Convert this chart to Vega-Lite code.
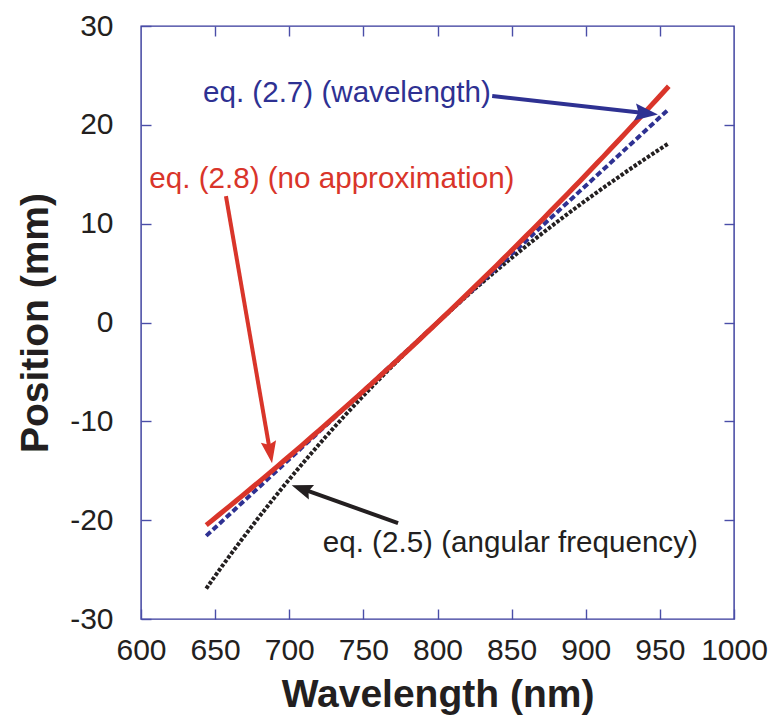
{
  "$schema": "https://vega.github.io/schema/vega-lite/v6.json",
  "width": 593,
  "height": 593,
  "autosize": {"type": "none"},
  "padding": {"left": 141, "top": 26, "right": 37, "bottom": 100},
  "background": "white",
  "config": {
    "font": "Liberation Sans",
    "view": {"stroke": "#34379a", "strokeWidth": 1.4},
    "axis": {"grid": false, "domain": false}
  },
  "datasets": {
    "curves": [
      {"w": 644, "r": -20.50, "b": -21.59, "k": -26.92},
      {"w": 648, "r": -20.02, "b": -21.04, "k": -26.07},
      {"w": 652, "r": -19.53, "b": -20.48, "k": -25.22},
      {"w": 656, "r": -19.04, "b": -19.93, "k": -24.39},
      {"w": 660, "r": -18.55, "b": -19.38, "k": -23.57},
      {"w": 664, "r": -18.06, "b": -18.82, "k": -22.76},
      {"w": 668, "r": -17.57, "b": -18.27, "k": -21.96},
      {"w": 672, "r": -17.07, "b": -17.72, "k": -21.17},
      {"w": 676, "r": -16.57, "b": -17.16, "k": -20.38},
      {"w": 680, "r": -16.07, "b": -16.61, "k": -19.61},
      {"w": 684, "r": -15.57, "b": -16.05, "k": -18.85},
      {"w": 688, "r": -15.06, "b": -15.50, "k": -18.09},
      {"w": 692, "r": -14.55, "b": -14.95, "k": -17.34},
      {"w": 696, "r": -14.04, "b": -14.39, "k": -16.60},
      {"w": 700, "r": -13.53, "b": -13.84, "k": -15.88},
      {"w": 704, "r": -13.02, "b": -13.29, "k": -15.15},
      {"w": 708, "r": -12.50, "b": -12.73, "k": -14.44},
      {"w": 712, "r": -11.98, "b": -12.18, "k": -13.73},
      {"w": 716, "r": -11.46, "b": -11.63, "k": -13.04},
      {"w": 720, "r": -10.94, "b": -11.07, "k": -12.35},
      {"w": 724, "r": -10.41, "b": -10.52, "k": -11.66},
      {"w": 728, "r": -9.88, "b": -9.96, "k": -10.99},
      {"w": 732, "r": -9.35, "b": -9.41, "k": -10.32},
      {"w": 736, "r": -8.82, "b": -8.86, "k": -9.66},
      {"w": 740, "r": -8.29, "b": -8.30, "k": -9.01},
      {"w": 744, "r": -7.75, "b": -7.75, "k": -8.36},
      {"w": 748, "r": -7.21, "b": -7.20, "k": -7.73},
      {"w": 752, "r": -6.67, "b": -6.64, "k": -7.09},
      {"w": 756, "r": -6.13, "b": -6.09, "k": -6.47},
      {"w": 760, "r": -5.58, "b": -5.54, "k": -5.85},
      {"w": 764, "r": -5.03, "b": -4.98, "k": -5.24},
      {"w": 768, "r": -4.48, "b": -4.43, "k": -4.63},
      {"w": 772, "r": -3.93, "b": -3.88, "k": -4.03},
      {"w": 776, "r": -3.38, "b": -3.32, "k": -3.44},
      {"w": 780, "r": -2.82, "b": -2.77, "k": -2.85},
      {"w": 784, "r": -2.26, "b": -2.21, "k": -2.27},
      {"w": 788, "r": -1.70, "b": -1.66, "k": -1.69},
      {"w": 792, "r": -1.13, "b": -1.11, "k": -1.12},
      {"w": 796, "r": -0.57, "b": -0.55, "k": -0.56},
      {"w": 800, "r": 0, "b": 0, "k": 0},
      {"w": 804, "r": 0.57, "b": 0.55, "k": 0.55},
      {"w": 808, "r": 1.14, "b": 1.11, "k": 1.10},
      {"w": 812, "r": 1.72, "b": 1.66, "k": 1.64},
      {"w": 816, "r": 2.29, "b": 2.21, "k": 2.18},
      {"w": 820, "r": 2.87, "b": 2.77, "k": 2.71},
      {"w": 824, "r": 3.46, "b": 3.32, "k": 3.24},
      {"w": 828, "r": 4.04, "b": 3.88, "k": 3.76},
      {"w": 832, "r": 4.63, "b": 4.43, "k": 4.27},
      {"w": 836, "r": 5.21, "b": 4.98, "k": 4.79},
      {"w": 840, "r": 5.80, "b": 5.54, "k": 5.29},
      {"w": 844, "r": 6.40, "b": 6.09, "k": 5.79},
      {"w": 848, "r": 6.99, "b": 6.64, "k": 6.29},
      {"w": 852, "r": 7.59, "b": 7.20, "k": 6.78},
      {"w": 856, "r": 8.19, "b": 7.75, "k": 7.27},
      {"w": 860, "r": 8.79, "b": 8.30, "k": 7.75},
      {"w": 864, "r": 9.39, "b": 8.86, "k": 8.23},
      {"w": 868, "r": 10.00, "b": 9.41, "k": 8.71},
      {"w": 872, "r": 10.61, "b": 9.96, "k": 9.18},
      {"w": 876, "r": 11.22, "b": 10.52, "k": 9.64},
      {"w": 880, "r": 11.83, "b": 11.07, "k": 10.10},
      {"w": 884, "r": 12.45, "b": 11.63, "k": 10.56},
      {"w": 888, "r": 13.06, "b": 12.18, "k": 11.01},
      {"w": 892, "r": 13.68, "b": 12.73, "k": 11.46},
      {"w": 896, "r": 14.30, "b": 13.29, "k": 11.91},
      {"w": 900, "r": 14.93, "b": 13.84, "k": 12.35},
      {"w": 904, "r": 15.55, "b": 14.39, "k": 12.78},
      {"w": 908, "r": 16.18, "b": 14.95, "k": 13.22},
      {"w": 912, "r": 16.81, "b": 15.50, "k": 13.65},
      {"w": 916, "r": 17.45, "b": 16.05, "k": 14.07},
      {"w": 920, "r": 18.08, "b": 16.61, "k": 14.49},
      {"w": 924, "r": 18.72, "b": 17.16, "k": 14.91},
      {"w": 928, "r": 19.36, "b": 17.72, "k": 15.33},
      {"w": 932, "r": 20.00, "b": 18.27, "k": 15.74},
      {"w": 936, "r": 20.64, "b": 18.82, "k": 16.15},
      {"w": 940, "r": 21.29, "b": 19.38, "k": 16.55},
      {"w": 944, "r": 21.94, "b": 19.93, "k": 16.95},
      {"w": 948, "r": 22.59, "b": 20.48, "k": 17.35},
      {"w": 952, "r": 23.24, "b": 21.04, "k": 17.74},
      {"w": 956, "r": 23.90, "b": 21.59, "k": 18.13}
    ]
  },
  "resolve": {"axis": {"x": "independent", "y": "independent"}},
  "layer": [
    {
      "data": {"name": "curves"},
      "mark": {"type": "line", "color": "#231f20", "strokeWidth": 4, "strokeDash": [3.5, 1.8], "strokeCap": "butt"},
      "encoding": {
        "x": {"field": "w", "type": "quantitative", "scale": {"domain": [600, 1000], "nice": false, "zero": false},
          "axis": {"orient": "bottom", "values": [600, 650, 700, 750, 800, 850, 900, 950, 1000],
            "labelExpr": "'' + datum.value",
            "title": "Wavelength (nm)", "titleFontSize": 39, "titleFontWeight": "bold", "titleColor": "#231f20",
            "titlePadding": 10, "labelFontSize": 30, "labelColor": "#231f20", "labelPadding": 26,
            "labelFlush": false, "labelOverlap": false, "tickSize": -10, "tickColor": "#4a4ea8", "tickWidth": 1.4}},
        "y": {"field": "k", "type": "quantitative", "scale": {"domain": [-30, 30], "nice": false, "zero": false},
          "axis": {"orient": "left", "values": [-30, -20, -10, 0, 10, 20, 30],
            "labelExpr": "datum.value < 0 ? '-' + abs(datum.value) : '' + datum.value",
            "title": "Position (mm)", "titleFontSize": 39, "titleFontWeight": "bold", "titleColor": "#231f20",
            "titlePadding": 14, "labelFontSize": 30, "labelColor": "#231f20", "labelPadding": 38,
            "labelFlush": false, "labelOverlap": false, "tickSize": -10, "tickColor": "#4a4ea8", "tickWidth": 1.4}}
      }
    },
    {
      "data": {"name": "curves"},
      "mark": {"type": "line", "color": "#2e3192", "strokeWidth": 4, "strokeDash": [6, 3], "strokeCap": "butt"},
      "encoding": {
        "x": {"field": "w", "type": "quantitative", "scale": {"domain": [600, 1000], "nice": false, "zero": false},
          "axis": {"orient": "top", "values": [650, 700, 750, 800, 850, 900, 950], "labels": false, "title": null,
            "tickSize": -10, "tickColor": "#4a4ea8", "tickWidth": 1.4}},
        "y": {"field": "b", "type": "quantitative", "scale": {"domain": [-30, 30], "nice": false, "zero": false},
          "axis": {"orient": "right", "values": [-20, -10, 0, 10, 20], "labels": false, "title": null,
            "tickSize": -10, "tickColor": "#4a4ea8", "tickWidth": 1.4}}
      }
    },
    {
      "data": {"name": "curves"},
      "mark": {"type": "line", "color": "#d9352a", "strokeWidth": 5},
      "encoding": {
        "x": {"field": "w", "type": "quantitative", "scale": {"domain": [600, 1000], "nice": false, "zero": false}, "axis": null},
        "y": {"field": "r", "type": "quantitative", "scale": {"domain": [-30, 30], "nice": false, "zero": false}, "axis": null}
      }
    },
    {
      "data": {"values": [
        {"id": "wavelength", "w1": 836.9, "p1": 22.91, "w2": 940.7, "p2": 21.17},
        {"id": "exact", "w1": 657.3, "p1": 12.79, "w2": 687.0, "p2": -13.04},
        {"id": "frequency", "w1": 773.4, "p1": -20.30, "w2": 709.3, "p2": -16.86}
      ]},
      "mark": {"type": "rule", "strokeWidth": 4},
      "encoding": {
        "x": {"field": "w1", "type": "quantitative", "scale": {"domain": [600, 1000], "nice": false, "zero": false}, "axis": null},
        "y": {"field": "p1", "type": "quantitative", "scale": {"domain": [-30, 30], "nice": false, "zero": false}, "axis": null},
        "x2": {"field": "w2"},
        "y2": {"field": "p2"},
        "color": {"field": "id", "type": "nominal", "legend": null,
          "scale": {"domain": ["wavelength", "exact", "frequency"], "range": ["#2e3192", "#d9352a", "#231f20"]}}
      }
    },
    {
      "data": {"values": [{"w": 948.7, "p": 21.04}]},
      "mark": {"type": "point", "shape": "M0,0L-2,-0.74L-1.7,0L-2,0.74Z", "size": 530, "angle": 6.4,
        "filled": true, "color": "#2e3192", "opacity": 1, "strokeWidth": 0},
      "encoding": {
        "x": {"field": "w", "type": "quantitative", "scale": {"domain": [600, 1000], "nice": false, "zero": false}, "axis": null},
        "y": {"field": "p", "type": "quantitative", "scale": {"domain": [-30, 30], "nice": false, "zero": false}, "axis": null}
      }
    },
    {
      "data": {"values": [{"w": 688.4, "p": -14.23}]},
      "mark": {"type": "point", "shape": "M0,0L-2,-0.7L-1.7,0L-2,0.7Z", "size": 484, "angle": 80.6,
        "filled": true, "color": "#d9352a", "opacity": 1, "strokeWidth": 0},
      "encoding": {
        "x": {"field": "w", "type": "quantitative", "scale": {"domain": [600, 1000], "nice": false, "zero": false}, "axis": null},
        "y": {"field": "p", "type": "quantitative", "scale": {"domain": [-30, 30], "nice": false, "zero": false}, "axis": null}
      }
    },
    {
      "data": {"values": [{"w": 701.65, "p": -16.46}]},
      "mark": {"type": "point", "shape": "M0,0L-2,-0.74L-1.7,0L-2,0.74Z", "size": 440, "angle": 199.7,
        "filled": true, "color": "#231f20", "opacity": 1, "strokeWidth": 0},
      "encoding": {
        "x": {"field": "w", "type": "quantitative", "scale": {"domain": [600, 1000], "nice": false, "zero": false}, "axis": null},
        "y": {"field": "p", "type": "quantitative", "scale": {"domain": [-30, 30], "nice": false, "zero": false}, "axis": null}
      }
    },
    {
      "data": {"values": [
        {"id": "wavelength", "label": "eq. (2.7) (wavelength)", "w": 641.8, "p": 22.31},
        {"id": "exact", "label": "eq. (2.8) (no approximation)", "w": 605.6, "p": 13.6},
        {"id": "frequency", "label": "eq. (2.5) (angular frequency)", "w": 722.6, "p": -23.21}
      ]},
      "mark": {"type": "text", "align": "left", "baseline": "alphabetic", "fontSize": 29.6},
      "encoding": {
        "x": {"field": "w", "type": "quantitative", "scale": {"domain": [600, 1000], "nice": false, "zero": false}, "axis": null},
        "y": {"field": "p", "type": "quantitative", "scale": {"domain": [-30, 30], "nice": false, "zero": false}, "axis": null},
        "text": {"field": "label"},
        "color": {"field": "id", "type": "nominal", "legend": null,
          "scale": {"domain": ["wavelength", "exact", "frequency"], "range": ["#2e3192", "#d9352a", "#231f20"]}}
      }
    }
  ]
}
